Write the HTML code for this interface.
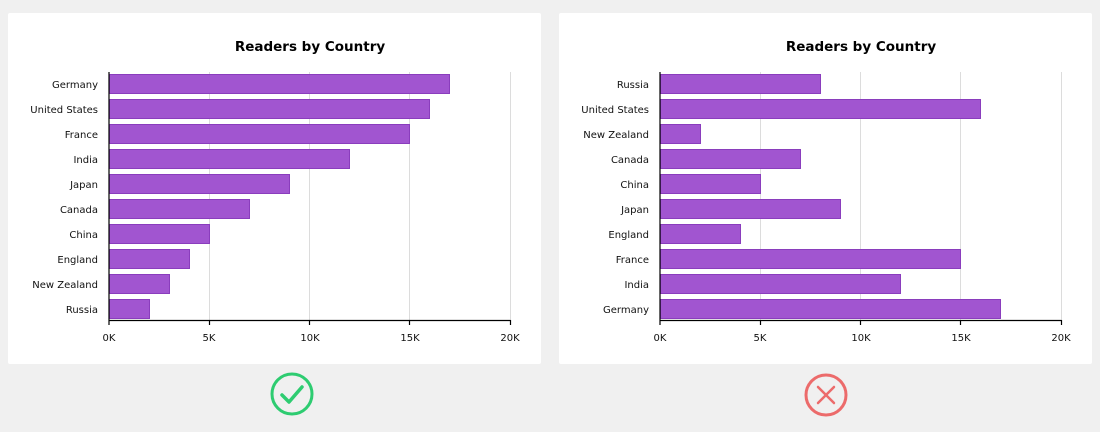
<!DOCTYPE html>
<html><head><style>
html,body{margin:0;padding:0;background:#f0f0f0;width:1100px;height:432px;overflow:hidden}
svg{display:block;font-family:"DejaVu Sans","Liberation Sans",sans-serif}
</style></head><body>
<svg width="1100" height="432" viewBox="0 0 1100 432">
<rect x="0" y="0" width="1100" height="432" fill="#f0f0f0"/>
<rect x="8" y="13" width="533" height="351" fill="#fff" rx="2"/>
<rect x="559" y="13" width="533" height="351" fill="#fff" rx="2"/>

<g id="L">
<text x="310" y="51" text-anchor="middle" font-size="13.5" font-weight="bold" fill="#000">Readers by Country</text>
<g stroke="#dcdcdc" stroke-width="1">
<line x1="209.5" y1="72" x2="209.5" y2="320"/><line x1="309.5" y1="72" x2="309.5" y2="320"/>
<line x1="409.5" y1="72" x2="409.5" y2="320"/><line x1="510.5" y1="72" x2="510.5" y2="320"/>
</g>
<g fill="#a155d0" stroke="#8a3dbd" stroke-width="1">
<rect x="109.5" y="74.5" width="340" height="19"/>
<rect x="109.5" y="99.5" width="320" height="19"/>
<rect x="109.5" y="124.5" width="300" height="19"/>
<rect x="109.5" y="149.5" width="240" height="19"/>
<rect x="109.5" y="174.5" width="180" height="19"/>
<rect x="109.5" y="199.5" width="140" height="19"/>
<rect x="109.5" y="224.5" width="100" height="19"/>
<rect x="109.5" y="249.5" width="80" height="19"/>
<rect x="109.5" y="274.5" width="60" height="19"/>
<rect x="109.5" y="299.5" width="40" height="19"/>
</g>
<g font-size="10" text-anchor="end" fill="#111">
<text x="98" y="88">Germany</text><text x="98" y="113">United States</text>
<text x="98" y="138">France</text><text x="98" y="163">India</text>
<text x="98" y="188">Japan</text><text x="98" y="213">Canada</text>
<text x="98" y="238">China</text><text x="98" y="263">England</text>
<text x="98" y="288">New Zealand</text><text x="98" y="313">Russia</text>
</g>
<g stroke="#000" stroke-width="1.2">
<line x1="109" y1="72" x2="109" y2="325"/><line x1="109" y1="320.5" x2="510.5" y2="320.5"/>
<line x1="209.5" y1="320" x2="209.5" y2="325"/><line x1="309.5" y1="320" x2="309.5" y2="325"/>
<line x1="409.5" y1="320" x2="409.5" y2="325"/><line x1="510.5" y1="320" x2="510.5" y2="325"/>
</g>
<g font-size="10" text-anchor="middle" fill="#111">
<text x="109" y="341">0K</text><text x="209" y="341">5K</text><text x="310" y="341">10K</text>
<text x="410" y="341">15K</text><text x="510" y="341">20K</text>
</g>
</g>

<g>
<text x="861" y="51" text-anchor="middle" font-size="13.5" font-weight="bold" fill="#000">Readers by Country</text>
<g stroke="#dcdcdc" stroke-width="1">
<line x1="760.5" y1="72" x2="760.5" y2="320"/><line x1="860.5" y1="72" x2="860.5" y2="320"/>
<line x1="960.5" y1="72" x2="960.5" y2="320"/><line x1="1061.5" y1="72" x2="1061.5" y2="320"/>
</g>
<g fill="#a155d0" stroke="#8a3dbd" stroke-width="1">
<rect x="660.5" y="74.5" width="160" height="19"/>
<rect x="660.5" y="99.5" width="320" height="19"/>
<rect x="660.5" y="124.5" width="40" height="19"/>
<rect x="660.5" y="149.5" width="140" height="19"/>
<rect x="660.5" y="174.5" width="100" height="19"/>
<rect x="660.5" y="199.5" width="180" height="19"/>
<rect x="660.5" y="224.5" width="80" height="19"/>
<rect x="660.5" y="249.5" width="300" height="19"/>
<rect x="660.5" y="274.5" width="240" height="19"/>
<rect x="660.5" y="299.5" width="340" height="19"/>
</g>
<g font-size="10" text-anchor="end" fill="#111">
<text x="649" y="88">Russia</text><text x="649" y="113">United States</text>
<text x="649" y="138">New Zealand</text><text x="649" y="163">Canada</text>
<text x="649" y="188">China</text><text x="649" y="213">Japan</text>
<text x="649" y="238">England</text><text x="649" y="263">France</text>
<text x="649" y="288">India</text><text x="649" y="313">Germany</text>
</g>
<g stroke="#000" stroke-width="1.2">
<line x1="660" y1="72" x2="660" y2="325"/><line x1="660" y1="320.5" x2="1061.5" y2="320.5"/>
<line x1="760.5" y1="320" x2="760.5" y2="325"/><line x1="860.5" y1="320" x2="860.5" y2="325"/>
<line x1="960.5" y1="320" x2="960.5" y2="325"/><line x1="1061.5" y1="320" x2="1061.5" y2="325"/>
</g>
<g font-size="10" text-anchor="middle" fill="#111">
<text x="660" y="341">0K</text><text x="760" y="341">5K</text><text x="861" y="341">10K</text>
<text x="961" y="341">15K</text><text x="1061" y="341">20K</text>
</g>
</g>

<circle cx="292" cy="394" r="20" fill="none" stroke="#2ecc71" stroke-width="3"/>
<polyline points="282,395 289,402 302,387" fill="none" stroke="#2ecc71" stroke-width="3.5" stroke-linecap="round" stroke-linejoin="round"/>
<circle cx="826" cy="395" r="20" fill="none" stroke="#ec6b6b" stroke-width="3"/>
<g stroke="#ec6b6b" stroke-width="2.5" stroke-linecap="round">
<line x1="818" y1="387" x2="834" y2="403"/><line x1="834" y1="387" x2="818" y2="403"/>
</g>
</svg>
</body></html>
